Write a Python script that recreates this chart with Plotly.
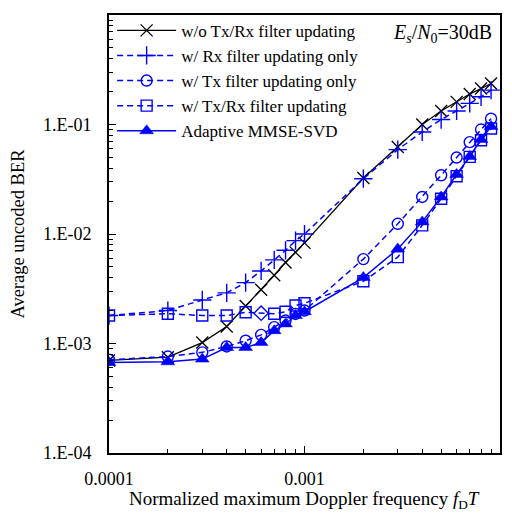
import plotly.graph_objects as go

fdT = [1e-4, 2e-4, 3e-4, 4e-4, 5e-4, 6e-4, 7e-4, 8e-4, 9e-4,
       1e-3, 2e-3, 3e-3, 4e-3, 5e-3, 6e-3, 7e-3, 8e-3, 9e-3]

ber_no_update = [7.0e-4, 7.5e-4, 1.02e-3, 1.43e-3, 2.2e-3, 3.1e-3, 4.2e-3, 5.5e-3, 6.8e-3,
                 8.3e-3, 0.0325, 0.0624, 0.100, 0.133, 0.161, 0.190, 0.213, 0.237]
ber_rx_only = [1.8e-3, 2.0e-3, 2.5e-3, 2.9e-3, 3.6e-3, 4.6e-3, 5.8e-3, 7.1e-3, 8.7e-3,
               1.0e-2, 0.032, 0.059, 0.0855, 0.111, 0.133, 0.156, 0.179, 0.206]
ber_tx_only = [7.1e-4, 7.6e-4, 8.3e-4, 9.4e-4, 1.06e-3, 1.2e-3, 1.41e-3, 1.62e-3, 1.86e-3,
               2.0e-3, 5.9e-3, 0.0124, 0.0218, 0.0344, 0.0499, 0.069, 0.090, 0.113]
ber_txrx = [1.8e-3, 1.87e-3, 1.8e-3, 1.8e-3, 1.93e-3, 1.89e-3, 1.87e-3, 1.95e-3, 2.22e-3,
            2.33e-3, 3.7e-3, 6.15e-3, 0.012, 0.021, 0.0337, 0.0506, 0.0718, 0.092]
ber_mmse_svd = [6.7e-4, 6.8e-4, 7.2e-4, 9.2e-4, 9.2e-4, 1.02e-3, 1.31e-3, 1.51e-3, 1.8e-3,
                1.95e-3, 4.0e-3, 7.3e-3, 0.0129, 0.0218, 0.035, 0.051, 0.073, 0.096]

names = ["w/o Tx/Rx filter updating", "w/ Rx filter updating only",
         "w/ Tx filter updating only", "w/ Tx/Rx filter updating",
         "Adaptive MMSE-SVD"]

y_major = [1e-4, 1e-3, 1e-2, 1e-1, 1e0]
y_labels = ["1.E-04", "1.E-03", "1.E-02", "1.E-01", "1.E+00"]
x_major = [1e-4, 1e-3, 1e-2]
x_labels = ["0.0001", "0.001", "0.01"]

x_title = "Normalized maximum Doppler frequency <i>f</i><sub>D</sub><i>T</i>"
y_title = "Average uncoded BER"

BLUE = "#0000FF"
FONT = "Liberation Serif, Times New Roman, serif"

fig = go.Figure()
fig.add_trace(go.Scatter(
    x=fdT, y=ber_no_update, name=names[0], mode="lines+markers",
    line=dict(color="black", width=1.3),
    marker=dict(symbol="x-thin-open", size=12, line=dict(color="black", width=1.3))))
fig.add_trace(go.Scatter(
    x=fdT, y=ber_rx_only, name=names[1], mode="lines+markers",
    line=dict(color=BLUE, width=1.5, dash="6px,4px"),
    marker=dict(symbol="cross-thin-open", size=13, line=dict(color=BLUE, width=1.4))))
fig.add_trace(go.Scatter(
    x=fdT, y=ber_tx_only, name=names[2], mode="lines+markers",
    line=dict(color=BLUE, width=1.5, dash="6px,4px"),
    marker=dict(symbol="circle-open", size=11, color=BLUE, line=dict(color=BLUE, width=1.4))))
sq_symbols = ["square-open"] * len(fdT)
sq_symbols[5] = "diamond-open"
fig.add_trace(go.Scatter(
    x=fdT, y=ber_txrx, name=names[3], mode="lines+markers",
    line=dict(color=BLUE, width=1.5, dash="6px,4px"),
    marker=dict(symbol=sq_symbols, size=11, color=BLUE, line=dict(color=BLUE, width=1.4))))
fig.add_trace(go.Scatter(
    x=fdT, y=ber_mmse_svd, name=names[4], mode="lines+markers",
    line=dict(color=BLUE, width=1.5),
    marker=dict(symbol="triangle-up", size=12, color=BLUE, line=dict(color=BLUE, width=0.5))))

minor_vals = [m * 10 ** e for e in range(-4, 0) for m in range(2, 10)]
xminor = [m * 10 ** e for e in range(-4, -2) for m in range(2, 10)]

fig.update_xaxes(
    type="log", range=[-4, -2], tickmode="array", tickvals=x_major, ticktext=x_labels,
    ticks="inside", ticklen=7, tickwidth=1.3, tickcolor="black",
    showline=True, linecolor="black", linewidth=2, mirror=True,
    showgrid=False, zeroline=False, automargin=False, ticklabelstandoff=8,
    minor=dict(tickmode="array", tickvals=xminor, ticks="inside", ticklen=4,
               tickwidth=1.2, tickcolor="black", showgrid=False),
    tickfont=dict(family=FONT, size=18, color="black"))
fig.update_yaxes(
    type="log", range=[-4, 0], tickmode="array", tickvals=y_major, ticktext=y_labels,
    ticks="inside", ticklen=7, tickwidth=1.3, tickcolor="black",
    showline=True, linecolor="black", linewidth=2, mirror=True,
    showgrid=False, zeroline=False, automargin=False, ticklabelstandoff=12,
    minor=dict(tickmode="array", tickvals=minor_vals, ticks="inside", ticklen=4,
               tickwidth=1.2, tickcolor="black", showgrid=False),
    tickfont=dict(family=FONT, size=18, color="black"),
    title=dict(text=y_title, font=dict(family=FONT, size=18.5, color="black"), standoff=15))

fig.add_annotation(
    x=0.5, y=-0.075, xref="paper", yref="paper", xanchor="center", yanchor="top",
    showarrow=False, text=x_title,
    font=dict(family=FONT, size=19, color="black"))

fig.add_annotation(
    x=0.985, y=0.99, xref="paper", yref="paper", xanchor="right", yanchor="top",
    showarrow=False,
    text="<i>E</i><sub><i>s</i></sub>/<i>N</i><sub>0</sub>=30dB",
    font=dict(family=FONT, size=20, color="black"))

fig.update_layout(
    width=504, height=505,
    margin=dict(l=101, r=12, t=7, b=60, autoexpand=False),
    paper_bgcolor="white", plot_bgcolor="white",
    font=dict(family=FONT, size=18, color="black"),
    legend=dict(x=0.008, y=1.005, xanchor="left", yanchor="top",
                bgcolor="rgba(0,0,0,0)", borderwidth=0,
                font=dict(family=FONT, size=17, color="black"),
                itemwidth=59, tracegroupgap=0),
    showlegend=True)

fig.write_html("out.html")
